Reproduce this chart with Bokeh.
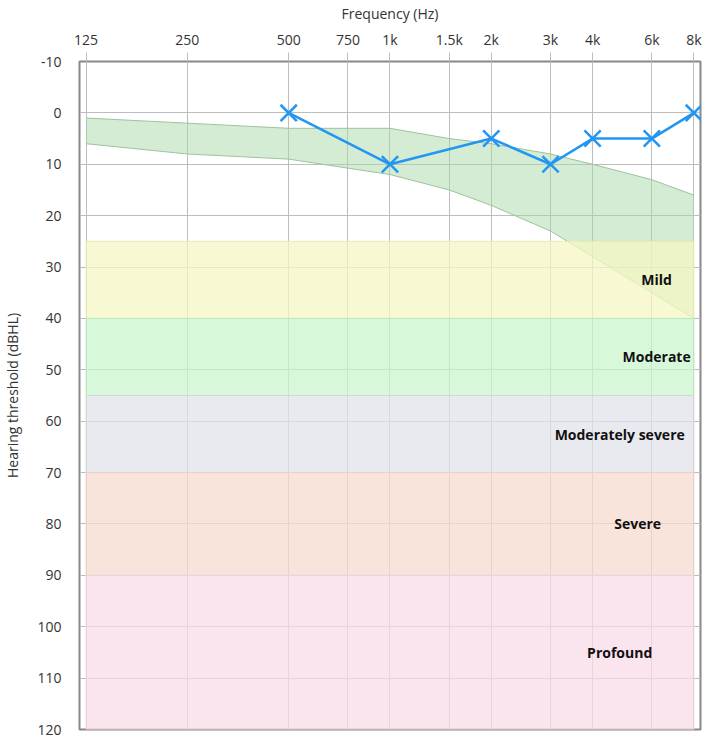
from bokeh.plotting import figure
from bokeh.models import Range1d, FixedTicker, ColumnDataSource
from bokeh.core.properties import value
from bokeh.embed import file_html
from bokeh.resources import INLINE

# ---- data ----
freqs = [500, 1000, 2000, 3000, 4000, 6000, 8000]
thresholds = [0, 10, 5, 10, 5, 5, 0]

normal_freqs = [125, 250, 500, 1000, 1500, 2000, 3000, 4000, 6000, 8000]
normal_upper = [1, 2, 3, 3, 5, 6, 8, 10, 13, 16]
normal_lower = [6, 8, 9, 12, 15, 18, 23, 28, 35, 40]

band_names = ["Mild", "Moderate", "Moderately severe", "Severe", "Profound"]
band_top = [25, 40, 55, 70, 90]
band_bottom = [40, 55, 70, 90, 120]
band_colors = ["#f6f7c3", "#cbf6d0", "#e2e3eb", "#f7dbd0", "#f8dbe8"]
band_line_colors = ["#e8e9b0", "#b8e6be", "#d4d5dd", "#ead0c6", "#eed0de"]
label_freqs = [6200, 6200, 4815, 5447, 4815]

x_ticks = [125, 250, 500, 750, 1000, 1500, 2000, 3000, 4000, 6000, 8000]
x_tick_labels = ["125", "250", "500", "750", "1k", "1.5k", "2k", "3k", "4k", "6k", "8k"]
y_ticks = list(range(-10, 121, 10))
y_tick_labels = [str(t) for t in y_ticks]

FONT = "Open Sans"

p = figure(x_axis_type="log", x_axis_location="above",
           x_range=Range1d(119.5, 8370), y_range=Range1d(120, -10),
           frame_width=621, frame_height=668,
           min_border_left=73, min_border_right=2, min_border_top=53, min_border_bottom=9,
           output_backend="svg", toolbar_location=None)

p.outline_line_color = "#888888"
p.outline_line_width = 2

# grids
p.xgrid.ticker = FixedTicker(ticks=x_ticks)
p.ygrid.ticker = FixedTicker(ticks=y_ticks)
p.xgrid.grid_line_color = "#bdbdbd"
p.ygrid.grid_line_color = "#bdbdbd"

# axes
xa = p.xaxis[0]
xa.ticker = FixedTicker(ticks=x_ticks)
xa.major_label_overrides = {t: l for t, l in zip(x_ticks, x_tick_labels)}
xa.axis_label = "Frequency (Hz)"
xa.axis_line_color = None
xa.major_tick_line_color = "#bdbdbd"
xa.major_tick_out = 9
xa.major_tick_in = 0
xa.minor_tick_line_color = None
xa.major_label_standoff = 4
xa.axis_label_standoff = 4

ya = p.yaxis[0]
ya.ticker = FixedTicker(ticks=y_ticks)
ya.major_label_overrides = {t: l for t, l in zip(y_ticks, y_tick_labels)}
ya.axis_label = "Hearing threshold (dBHL)"
ya.axis_line_color = None
ya.major_tick_line_color = None
ya.major_tick_out = 0
ya.major_tick_in = 0
ya.minor_tick_line_color = None
ya.major_label_standoff = 18
ya.axis_label_standoff = 12

for ax in (xa, ya):
    ax.major_label_text_font = FONT
    ax.major_label_text_font_size = "14px"
    ax.major_label_text_color = "#333333"
    ax.axis_label_text_font = FONT
    ax.axis_label_text_font_size = "14px"
    ax.axis_label_text_font_style = "normal"
    ax.axis_label_text_color = "#333333"

# normal hearing range
p.varea(x=normal_freqs, y1=normal_upper, y2=normal_lower,
        fill_color="#aad7aa", fill_alpha=0.5)
p.line(x=normal_freqs, y=normal_upper, line_color="#9cc49c", line_width=1)
p.line(x=normal_freqs, y=normal_lower, line_color="#9cc49c", line_width=1)

# severity bands
bsrc = ColumnDataSource(dict(left=[125] * 5, right=[8000] * 5, top=band_top,
                             bottom=band_bottom, fill=band_colors, line=band_line_colors))
p.quad(left="left", right="right", top="top", bottom="bottom", source=bsrc,
       fill_color="fill", fill_alpha=0.75, line_color="line", line_width=1, line_alpha=0.9)

# band labels
mid = [(a + b) / 2 for a, b in zip(band_top, band_bottom)]
lsrc = ColumnDataSource(dict(x=label_freqs, y=mid, t=band_names))
p.text(x="x", y="y", text="t", source=lsrc, text_font=value(FONT),
       text_font_size="14px", text_font_style="bold", text_color="#111111",
       text_align="center", text_baseline="middle")

# audiogram
p.line(x=freqs, y=thresholds, line_color="#2196f3", line_width=2.5)
p.scatter(x=freqs, y=thresholds, marker="x", size=23, line_color="#2196f3", line_width=2.5)

open("out.html", "w").write(file_html(p, INLINE))
